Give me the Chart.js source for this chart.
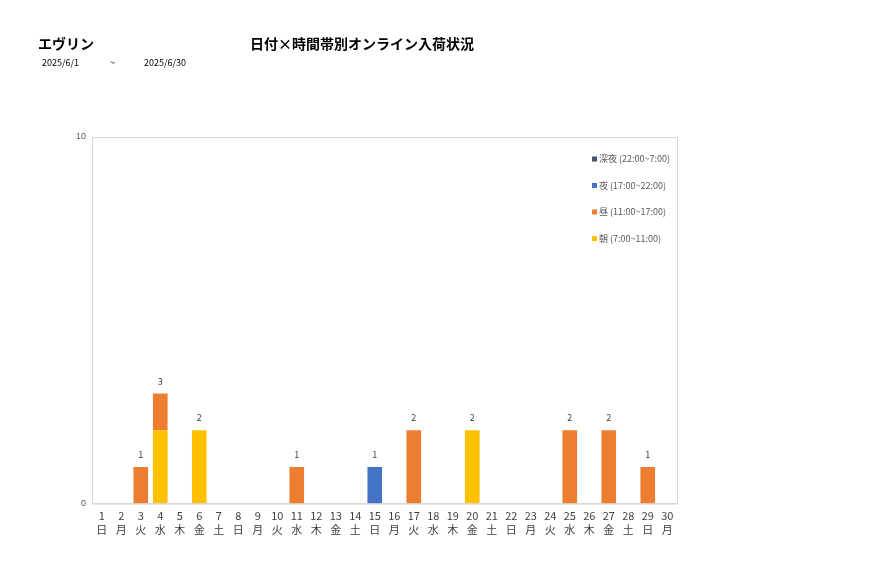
<!DOCTYPE html>
<html>
<head>
<meta charset="utf-8">
<script src="https://cdn.jsdelivr.net/npm/chart.js@4"></script>
<style>
  body { margin: 0; background: #fff; font-family: "Noto Sans CJK JP", sans-serif; }
  #wrap { position: relative; width: 877px; height: 578px; }
  .t { position: absolute; color: #000; white-space: nowrap; }
</style>
</head>
<body>
<div id="wrap">
  <canvas id="chart" width="877" height="578"></canvas>
  <div class="t" style="left:38px;top:33px;font-size:14px;font-weight:bold;">エヴリン</div>
  <div class="t" style="left:250px;top:33px;font-size:14px;font-weight:bold;">日付×時間帯別オンライン入荷状況</div>
  <div class="t" style="left:42px;top:56px;font-size:9px;">2025/6/1</div>
  <div class="t" style="left:110px;top:56px;font-size:9px;">~</div>
  <div class="t" style="left:144px;top:56px;font-size:9px;">2025/6/30</div>
</div>
<script>
// days of June 2025 and weekdays
const days = [];
const weekdays = ["日", "月", "火", "水", "木", "金", "土"];
for (let d = 1; d <= 30; d++) days.push([String(d), weekdays[(d - 1) % 7]]);

// series values per day (1..30)
const morning = [0,0,0,2,0,2,0,0,0,0,0,0,0,0,0,0,0,0,0,2,0,0,0,0,0,0,0,0,0,0];
const daytime = [0,0,1,1,0,0,0,0,0,0,1,0,0,0,0,0,2,0,0,0,0,0,0,0,2,0,2,0,1,0];
const evening = [0,0,0,0,0,0,0,0,0,0,0,0,0,0,1,0,0,0,0,0,0,0,0,0,0,0,0,0,0,0];
const night   = [0,0,0,0,0,0,0,0,0,0,0,0,0,0,0,0,0,0,0,0,0,0,0,0,0,0,0,0,0,0];
const yTicks = [0, 10];

// legend drawn top-down inside the plot
const legendPlugin = {
  id: "insideLegend",
  afterDraw(chart) {
    const ctx = chart.ctx;
    const sets = chart.data.datasets.slice().reverse();
    ctx.save();
    ctx.font = "9px 'Noto Sans CJK JP'";
    ctx.textBaseline = "middle";
    sets.forEach((ds, i) => {
      const y = 159 + i * 26.5;
      ctx.fillStyle = ds.backgroundColor;
      ctx.fillRect(592, y - 2.5, 5, 5);
      ctx.fillStyle = "#595959";
      ctx.fillText(ds.label, 599, y);
    });
    ctx.restore();
  }
};

// totals above each stack
const totalsPlugin = {
  id: "totals",
  afterDatasetsDraw(chart) {
    const ctx = chart.ctx;
    const xs = chart.scales.x, ys = chart.scales.y;
    ctx.save();
    ctx.font = "9px 'Noto Sans CJK JP'";
    ctx.fillStyle = "#404040";
    ctx.textAlign = "center";
    ctx.textBaseline = "bottom";
    days.forEach((d, i) => {
      const total = morning[i] + daytime[i] + evening[i] + night[i];
      if (total > 0) ctx.fillText(total, xs.getPixelForValue(i), ys.getPixelForValue(total) - 8);
    });
    ctx.restore();
  }
};

new Chart(document.getElementById("chart"), {
  type: "bar",
  data: {
    labels: days,
    datasets: [
      { label: "朝 (7:00~11:00)", data: morning, backgroundColor: "#FFC000" },
      { label: "昼 (11:00~17:00)", data: daytime, backgroundColor: "#ED7D31" },
      { label: "夜 (17:00~22:00)", data: evening, backgroundColor: "#4472C4" },
      { label: "深夜 (22:00~7:00)", data: night, backgroundColor: "#44546A" }
    ]
  },
  options: {
    responsive: false,
    animation: false,
    layout: { padding: { left: 70, right: 200, top: 137, bottom: 36 } },
    plugins: { legend: { display: false }, tooltip: { enabled: false } },
    datasets: { bar: { categoryPercentage: 0.75, barPercentage: 1 } },
    scales: {
      x: {
        stacked: true,
        grid: { display: false, drawTicks: false },
        border: { color: "#d9d9d9" },
        ticks: { color: "#404040", font: { size: 11, family: "Noto Sans CJK JP" }, maxRotation: 0, autoSkip: false, padding: 6 }
      },
      y: {
        stacked: true,
        min: 0, max: 10,
        afterBuildTicks: s => { s.ticks = yTicks.map(v => ({ value: v })); },
        grid: { display: false, drawTicks: false },
        border: { color: "#d9d9d9" },
        ticks: { color: "#595959", font: { size: 9 }, padding: 6 }
      }
    }
  },
  plugins: [legendPlugin, totalsPlugin, {
    id: "frame",
    afterDraw(chart) {
      const a = chart.chartArea, ctx = chart.ctx;
      ctx.save();
      ctx.strokeStyle = "#d9d9d9";
      ctx.strokeRect(a.left + 0.5, a.top + 0.5, a.right - a.left, a.bottom - a.top);
      ctx.restore();
    }
  }]
});
</script>
</body>
</html>
